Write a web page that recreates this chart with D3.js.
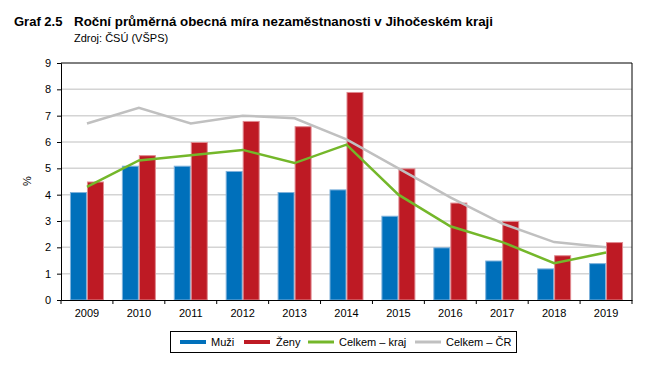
<!DOCTYPE html>
<html>
<head>
<meta charset="utf-8">
<script src="https://cdn.jsdelivr.net/npm/d3@7"></script>
<style>
  body { margin: 0; background: #fff; }
  svg { font-family: "Liberation Sans", Arial, sans-serif; }
</style>
</head>
<body>
<script>
"use strict";

// data
var years = ["2009", "2010", "2011", "2012", "2013", "2014", "2015", "2016", "2017", "2018", "2019"];
var muzi = [4.1, 5.1, 5.1, 4.9, 4.1, 4.2, 3.2, 2.0, 1.5, 1.2, 1.4];
var zeny = [4.5, 5.5, 6.0, 6.8, 6.6, 7.9, 5.0, 3.7, 3.0, 1.7, 2.2];
var celkemKraj = [4.3, 5.3, 5.5, 5.7, 5.2, 5.9, 4.0, 2.8, 2.2, 1.4, 1.8];
var celkemCR = [6.7, 7.3, 6.7, 7.0, 6.9, 6.1, 5.0, 3.9, 2.9, 2.2, 2.0];
var yTicks = [0, 1, 2, 3, 4, 5, 6, 7, 8, 9];

// dimensions
var margin = {top: 63, right: 31, bottom: 83, left: 61},
    width = 663 - margin.left - margin.right,
    height = 383 - margin.top - margin.bottom;

var svg = d3.select("body").append("svg")
    .attr("width", 663)
    .attr("height", 383);

// title
svg.append("text")
    .attr("x", 14).attr("y", 26)
    .attr("font-size", "13px").attr("font-weight", "bold")
    .text("Graf 2.5");
svg.append("text")
    .attr("x", 74).attr("y", 26)
    .attr("font-size", "13.35px").attr("font-weight", "bold")
    .text("Roční průměrná obecná míra nezaměstnanosti v Jihočeském kraji");
svg.append("text")
    .attr("x", 74).attr("y", 42)
    .attr("font-size", "11px")
    .text("Zdroj: ČSÚ (VŠPS)");

var g = svg.append("g")
    .attr("transform", "translate(" + margin.left + "," + margin.top + ")");

// scales
var x = d3.scaleBand().domain(years).range([0, width]);
var x1 = d3.scaleBand().domain(["m", "z"]).range([0, 34]);
var y = d3.scaleLinear().domain([0, 9]).range([height, 0]);
var barOffset = (x.bandwidth() - 34) / 2;

// gridlines
g.selectAll(".grid")
    .data(yTicks.slice(1, -1))
  .enter().append("line")
    .attr("x1", 0).attr("x2", width)
    .attr("y1", function(d) { return y(d); })
    .attr("y2", function(d) { return y(d); })
    .attr("stroke", "#d4d4d4").attr("stroke-width", 1.5);

// bars
function addBars(values, key, fill, edge) {
  g.selectAll(".bar-" + key)
      .data(values)
    .enter().append("rect")
      .attr("x", function(d, i) { return x(years[i]) + barOffset + x1(key) + 0.5; })
      .attr("y", function(d) { return y(d) + 0.5; })
      .attr("width", x1.bandwidth() - 1)
      .attr("height", function(d) { return height - y(d) - 0.5; })
      .attr("fill", fill)
      .attr("stroke", edge).attr("stroke-width", 1);
}
addBars(muzi, "m", "#0070bb", "#7fb2dc");
addBars(zeny, "z", "#be1a24", "#e08a90");

// lines
var line = d3.line()
    .x(function(d, i) { return x(years[i]) + x.bandwidth() / 2; })
    .y(function(d) { return y(d); });

g.append("path")
    .datum(celkemCR)
    .attr("fill", "none").attr("stroke", "#c0c0c0").attr("stroke-width", 2.5)
    .attr("d", line);
g.append("path")
    .datum(celkemKraj)
    .attr("fill", "none").attr("stroke", "#74b72a").attr("stroke-width", 2.5)
    .attr("d", line);

// frame top and right
g.append("line").attr("x1", 0).attr("x2", width).attr("y1", 0).attr("y2", 0)
    .attr("stroke", "#000");
g.append("line").attr("x1", width).attr("x2", width).attr("y1", 0).attr("y2", height)
    .attr("stroke", "#000");

// axes
var yAxis = g.append("g")
    .call(d3.axisLeft(y).tickValues(yTicks).tickSize(4).tickPadding(6));
var xAxis = g.append("g")
    .attr("transform", "translate(0," + height + ")")
    .call(d3.axisBottom(x).tickSize(0).tickPadding(9));

// x tick marks at category boundaries
xAxis.selectAll(".sep")
    .data(d3.range(years.length + 1))
  .enter().append("line")
    .attr("x1", function(i) { return i * x.step(); })
    .attr("x2", function(i) { return i * x.step(); })
    .attr("y1", 0).attr("y2", 4)
    .attr("stroke", "#000");

[yAxis, xAxis].forEach(function(a) {
  a.selectAll("text").attr("font-size", "11px").attr("fill", "#000")
      .attr("font-family", "Liberation Sans, Arial, sans-serif");
  a.select(".domain").attr("stroke", "#000");
});

// y label
svg.append("text")
    .attr("transform", "translate(31,181) rotate(-90)")
    .attr("text-anchor", "middle")
    .attr("font-size", "11px")
    .text("%");

// legend
var legendItems = [
  {name: "Muži", color: "#0070bb", sx: 180, tx: 211},
  {name: "Ženy", color: "#be1a24", sx: 244, tx: 276},
  {name: "Celkem – kraj", color: "#74b72a", sx: 308, tx: 339},
  {name: "Celkem – ČR", color: "#c0c0c0", sx: 415, tx: 446}
];
svg.append("rect")
    .attr("x", 170.5).attr("y", 331.5)
    .attr("width", 346).attr("height", 21)
    .attr("fill", "#fff").attr("stroke", "#000");
var leg = svg.selectAll(".leg")
    .data(legendItems)
  .enter().append("g");
leg.append("line")
    .attr("x1", function(d) { return d.sx; })
    .attr("x2", function(d) { return d.sx + 26; })
    .attr("y1", 342).attr("y2", 342)
    .attr("stroke", function(d) { return d.color; })
    .attr("stroke-width", function(d, i) { return i < 2 ? 4 : 3; });
leg.append("text")
    .attr("x", function(d) { return d.tx; })
    .attr("y", 346)
    .attr("font-size", "11px")
    .text(function(d) { return d.name; });
</script>
</body>
</html>
